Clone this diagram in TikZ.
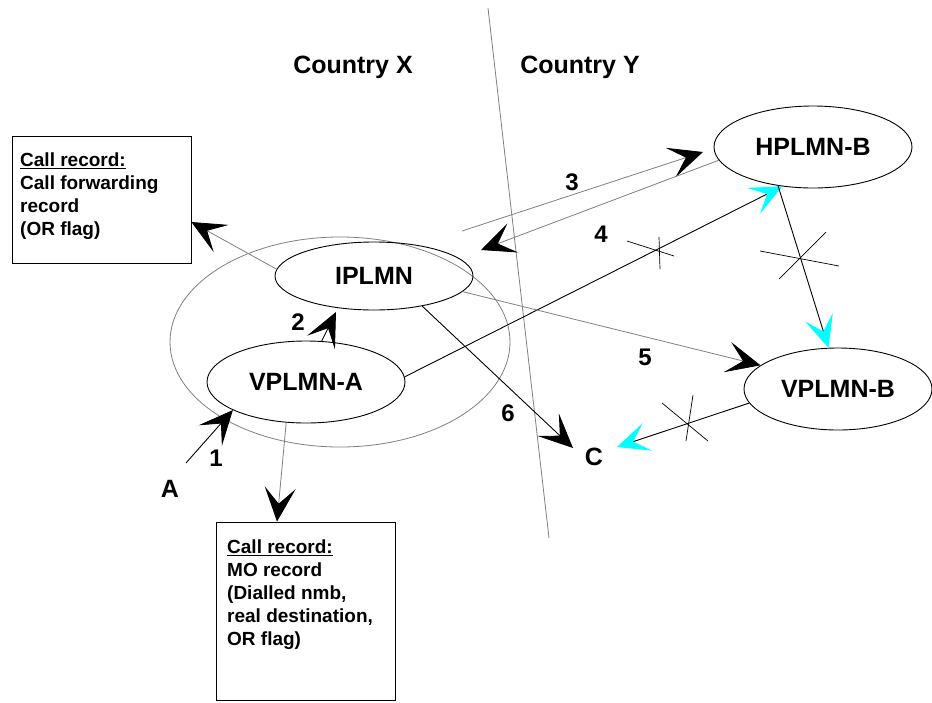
\documentclass[tikz,border=0pt]{standalone}
\usepackage{fontspec}
\setmainfont{Liberation Sans}
\usetikzlibrary{arrows.meta,shapes.geometric}
\definecolor{tipcyan}{RGB}{0,255,255}
\begin{document}
\begin{tikzpicture}[x=1pt,y=-1pt,
  gl/.style={draw=black!50, line width=0.8pt},
  bl/.style={draw=black, line width=0.9pt},
  net/.style={ellipse, draw, line width=0.9pt, inner sep=0pt, text depth=0pt, font=\fontsize{25}{30}\selectfont\bfseries},
  big/.style={inner sep=0pt, text depth=0pt, font=\fontsize{25}{30}\selectfont\bfseries},
  lab/.style={inner sep=0pt, text depth=0pt, font=\fontsize{24}{28}\selectfont\bfseries},
  btip/.style={-{Stealth[length=34pt,width=31pt,inset=16pt,color=black]}},
  ctip/.style={-{Stealth[length=32pt,width=29pt,inset=15pt,color=tipcyan]}},
  rec/.style={draw, line width=0.8pt, inner sep=0pt},
  rectext/.style={inner sep=0pt, align=left, anchor=north west, font=\fontsize{19}{23}\selectfont\bfseries},
  crossln/.style={draw=black, line width=0.7pt}
]
\useasboundingbox (0,0) rectangle (932,702);
\fill[white] (0,0) rectangle (932,702);

% border between countries
\draw[gl] (488,8) -- (549,538);

% country X cloud
\node[draw=black!50, line width=0.8pt, ellipse, minimum width=340pt, minimum height=210pt, inner sep=0pt] (CX) at (340,342) {};

% country names
\node[big] (cx) at (353,65) {Country X};
\node[big] (cy) at (580,65) {Country Y};

% networks
\node[net, minimum width=198pt, minimum height=68pt] (IP) at (374,276) {IPLMN};
\node[net, minimum width=198pt, minimum height=82pt] (VA) at (306,382) {VPLMN-A};
\node[net, minimum width=198pt, minimum height=82pt] (HB) at (813,147) {HPLMN-B};
\node[net, minimum width=188pt, minimum height=82pt] (VB) at (838,389) {VPLMN-B};

% parties
\node[big] (A) at (170,489) {A};
\node[big] (C) at (594,457) {C};

% record boxes
\node[rec, minimum width=179pt, minimum height=127pt] (R1) at (101.5,199.5) {};
\node[rec, minimum width=179pt, minimum height=178pt] (R2) at (305.5,611) {};
\node[rectext] (T1) at (20,153) {\underline{Call record:}\\Call forwarding\\record\\(OR flag)};
\node[rectext] (T2) at (227,540) {\underline{Call record:}\\MO record\\(Dialled nmb,\\real destination,\\OR flag)};

% connectors
\draw[gl, btip] (IP.176) -- ([yshift=-22.5pt]R1.east);
\draw[bl, btip] ([xshift=16pt,yshift=26pt]A.center) -- (VA.201);
\draw[bl, btip] (VA.69) -- ([xshift=-38pt,yshift=-36pt]IP.center);
\draw[gl, btip] ([xshift=88pt,yshift=45pt]IP.center) -- ([xshift=-110pt,yshift=-5pt]HB.center);
\draw[gl, btip] (HB.188) -- ([xshift=107pt,yshift=26pt]IP.center);
\draw[bl, ctip] (VA.3) -- (HB.232);
\draw[bl, ctip] (HB.228) -- (VB.103);
\draw[gl, btip] (IP.-10) -- (VB.163);
\draw[bl, btip] (IP.-32) -- ([xshift=-21pt,yshift=9pt]C.center);
\draw[bl, ctip] (VB.189) -- ([xshift=23pt,yshift=10pt]C.center);
\draw[gl, btip] (VA.244) -- ([xshift=-28.5pt]R2.north);

% crosses (broken links)
\draw[crossln] (627,241) -- (674,256);
\draw[crossln] (659,237) -- (660,269);
\draw[crossln] (760,251) -- (839,266);
\draw[crossln] (779,279) -- (826,232);
\draw[crossln] (662,403) -- (708,441);
\draw[crossln] (693,395) -- (686,441);

% step labels
\node[lab] (n1) at (216,458) {1};
\node[lab] (n2) at (298,322) {2};
\node[lab] (n3) at (572,182) {3};
\node[lab] (n4) at (601,234) {4};
\node[lab] (n5) at (645,357) {5};
\node[lab] (n6) at (508,413) {6};
\end{tikzpicture}
\end{document}
